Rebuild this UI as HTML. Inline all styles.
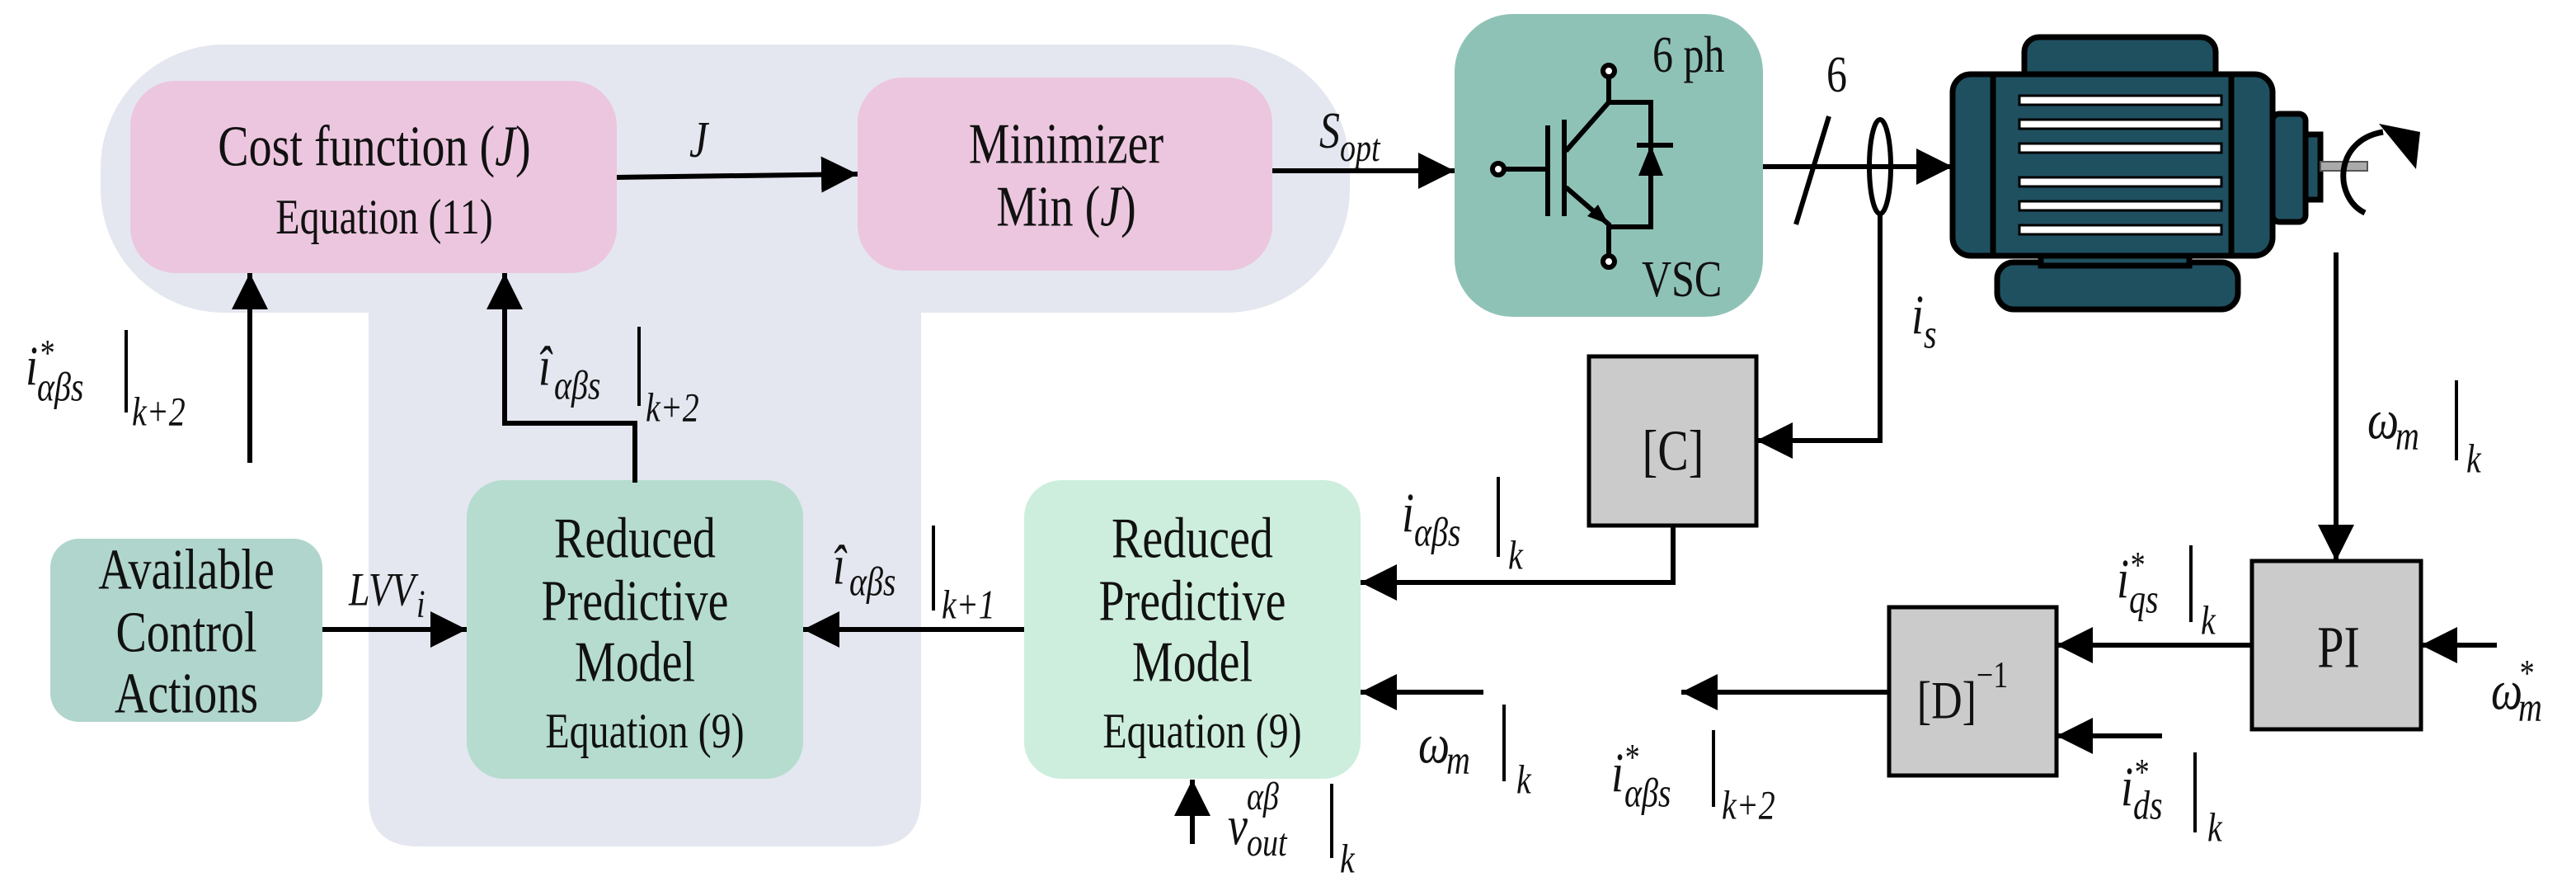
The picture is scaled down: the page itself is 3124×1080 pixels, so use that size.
<!DOCTYPE html>
<html><head><meta charset="utf-8"><style>
html,body{margin:0;padding:0;background:#fff;}
svg{display:block;}
text{font-family:"Liberation Serif",serif;fill:#111;transform-box:fill-box;transform-origin:center;transform:scaleY(1.25);}
.m{font-style:italic;}
</style></head><body>
<svg width="3124" height="1080" viewBox="0 0 3124 1080" xmlns="http://www.w3.org/2000/svg">
<defs>
<marker id="a" markerUnits="userSpaceOnUse" markerWidth="46" markerHeight="46" refX="44" refY="22" orient="auto">
<path d="M0,0 L44,22 L0,44 Z" fill="#000"/>
</marker>
</defs>
<rect x="122" y="54" width="1515" height="325" rx="150" fill="#e4e7ef"/>
<path d="M447,370 H1117 V966 Q1117,1026 1057,1026 H507 Q447,1026 447,966 Z" fill="#e4e7ef"/>

<rect x="158" y="98" width="590" height="233" rx="55" fill="#ecc6df"/>
<text x="454" y="196" font-size="56" text-anchor="middle">Cost function (<tspan class="m">J</tspan>)</text>
<text x="466" y="279" font-size="48" text-anchor="middle">Equation (11)</text>

<rect x="1040" y="94" width="503" height="234" rx="55" fill="#ecc6df"/>
<text x="1293" y="193" font-size="56" text-anchor="middle">Minimizer</text>
<text x="1293" y="269" font-size="56" text-anchor="middle">Min (<tspan class="m">J</tspan>)</text>

<rect x="61" y="653" width="330" height="222" rx="35" fill="#b0d5cc"/>
<text x="226" y="709" font-size="56" text-anchor="middle">Available</text>
<text x="226" y="785" font-size="56" text-anchor="middle">Control</text>
<text x="226" y="859" font-size="56" text-anchor="middle">Actions</text>

<rect x="566" y="582" width="408" height="362" rx="45" fill="#b5dccf"/>
<text x="770" y="671" font-size="56" text-anchor="middle">Reduced</text>
<text x="770" y="747" font-size="56" text-anchor="middle">Predictive</text>
<text x="770" y="821" font-size="56" text-anchor="middle">Model</text>
<text x="782" y="902" font-size="48" text-anchor="middle">Equation (9)</text>

<rect x="1242" y="582" width="408" height="362" rx="45" fill="#cdeedd"/>
<text x="1446" y="671" font-size="56" text-anchor="middle">Reduced</text>
<text x="1446" y="747" font-size="56" text-anchor="middle">Predictive</text>
<text x="1446" y="821" font-size="56" text-anchor="middle">Model</text>
<text x="1458" y="902" font-size="48" text-anchor="middle">Equation (9)</text>

<rect x="1764" y="17" width="374" height="367" rx="70" fill="#8fc2b6"/>
<text x="2004" y="83" font-size="50">6 ph</text>
<text x="1991" y="355" font-size="50">VSC</text>
<g stroke="#000" stroke-width="6" fill="none">
<circle cx="1817" cy="205" r="7" fill="#fff"/>
<line x1="1824" y1="205" x2="1874" y2="205"/>
<line x1="1877" y1="152" x2="1877" y2="262"/>
<line x1="1897" y1="145" x2="1897" y2="262"/>
<path d="M1899,183 L1951,124 V93"/>
<circle cx="1951" cy="86" r="7" fill="#fff"/>
<path d="M1899,227 L1951,272 V310"/>
<circle cx="1951" cy="317" r="7" fill="#fff"/>
<path d="M1951,124 H2002 V275 H1951"/>
<line x1="1985" y1="176" x2="2029" y2="176"/>
</g>
<polygon points="2002,176 1987,213 2017,213" fill="#000"/>
<polygon points="1951,272 1925,262 1938,248" fill="#000"/>

<g stroke="#000" stroke-width="7" fill="#1f5060">
<rect x="2455" y="45" width="232" height="60" rx="18"/>
<rect x="2422" y="318" width="292" height="57" rx="20"/>
<rect x="2475" y="300" width="180" height="22"/>
<rect x="2756" y="138" width="40" height="131" rx="8"/>
<rect x="2796" y="163" width="18" height="79"/>
<rect x="2368" y="90" width="388" height="220" rx="22"/>
<line x1="2417" y1="92" x2="2417" y2="308"/>
<line x1="2706" y1="92" x2="2706" y2="308"/>
</g>
<rect x="2814" y="196" width="57" height="11" fill="#aaa" stroke="#555" stroke-width="2"/>
<g fill="#fff" stroke="#000" stroke-width="3">
<rect x="2449" y="116" width="245" height="11"/>
<rect x="2449" y="145" width="245" height="11"/>
<rect x="2449" y="174" width="245" height="11"/>
<rect x="2449" y="215" width="245" height="11"/>
<rect x="2449" y="244" width="245" height="11"/>
<rect x="2449" y="273" width="245" height="11"/>
</g>
<path d="M2868,258 C2830,240 2830,170 2890,160" stroke="#000" stroke-width="7" fill="none"/>
<polygon points="2885,150 2935,160 2930,205" fill="#000"/>

<g stroke="#000" stroke-width="6" fill="none">
<line x1="748" y1="215" x2="1040" y2="211" marker-end="url(#a)"/>
<line x1="1543" y1="207" x2="1764" y2="207" marker-end="url(#a)"/>
<line x1="2138" y1="202" x2="2368" y2="202" marker-end="url(#a)"/>
<line x1="303" y1="561" x2="303" y2="331" marker-end="url(#a)"/>
<path d="M770,585 V513 H612 V331" marker-end="url(#a)"/>
<line x1="391" y1="763" x2="566" y2="763" marker-end="url(#a)"/>
<line x1="1242" y1="763" x2="974" y2="763" marker-end="url(#a)"/>
<line x1="1446" y1="1023" x2="1446" y2="945" marker-end="url(#a)"/>
<path d="M2280,259 V534 H2130" marker-end="url(#a)"/>
<path d="M2029,637 V706 H1650" marker-end="url(#a)"/>
<line x1="1799" y1="839" x2="1650" y2="839" marker-end="url(#a)"/>
<line x1="2833" y1="306" x2="2833" y2="680" marker-end="url(#a)"/>
<line x1="3028" y1="782" x2="2936" y2="782" marker-end="url(#a)"/>
<line x1="2731" y1="782" x2="2494" y2="782" marker-end="url(#a)"/>
<line x1="2622" y1="892" x2="2494" y2="892" marker-end="url(#a)"/>
<line x1="2291" y1="839" x2="2039" y2="839" marker-end="url(#a)"/>
<line x1="2218" y1="141" x2="2178" y2="272"/>
<ellipse cx="2280" cy="202" rx="13" ry="57"/>
</g>

<rect x="1927" y="432" width="203" height="205" fill="#cbcbcb" stroke="#000" stroke-width="5"/>
<text x="2029" y="565" font-size="56" text-anchor="middle">[C]</text>
<rect x="2731" y="680" width="205" height="204" fill="#cbcbcb" stroke="#000" stroke-width="5"/>
<text x="2836" y="804" font-size="58" text-anchor="middle">PI</text>
<rect x="2291" y="736" width="203" height="204" fill="#cbcbcb" stroke="#000" stroke-width="5"/>
<text x="2380" y="864" font-size="52" text-anchor="middle">[D]<tspan dy="-30" font-size="36">−1</tspan></text>

<text x="2215" y="107" font-size="50">6</text>
<text x="836" y="186" font-size="50" class="m">J</text>
<text x="1600" y="175" font-size="50" class="m">S</text><text x="1625" y="192" font-size="38" class="m">opt</text>
<text x="423" y="730" font-size="46" class="m">LVV</text><text x="505" y="745" font-size="38" class="m">i</text>

<g stroke="#000" stroke-width="4">
<line x1="153" y1="400" x2="153" y2="500"/>
<line x1="775" y1="396" x2="775" y2="492"/>
<line x1="1132" y1="637" x2="1132" y2="740"/>
<line x1="1615" y1="950" x2="1615" y2="1040"/>
<line x1="1817" y1="578" x2="1817" y2="675"/>
<line x1="1824" y1="854" x2="1824" y2="947"/>
<line x1="2979" y1="461" x2="2979" y2="558"/>
<line x1="2657" y1="661" x2="2657" y2="754"/>
<line x1="2662" y1="912" x2="2662" y2="1009"/>
<line x1="2078" y1="885" x2="2078" y2="978"/>
</g>
<g class="m">
<text x="31" y="462" font-size="54">i</text><text x="47" y="440" font-size="36">*</text><text x="45" y="482" font-size="40">αβs</text><text x="160" y="512" font-size="40">k+2</text>
<text x="653" y="462" font-size="54">î</text><text x="672" y="480" font-size="40">αβs</text><text x="783" y="507" font-size="40">k+2</text>
<text x="1010" y="703" font-size="54">î</text><text x="1030" y="718" font-size="40">αβs</text><text x="1142" y="746" font-size="40">k+1</text>
<text x="1489" y="1019" font-size="54">v</text><text x="1512" y="978" font-size="38">αβ</text><text x="1512" y="1034" font-size="38">out</text><text x="1625" y="1054" font-size="40">k</text>
<text x="2318" y="400" font-size="54">i</text><text x="2333" y="418" font-size="40">s</text>
<text x="1700" y="640" font-size="54">i</text><text x="1715" y="658" font-size="40">αβs</text><text x="1829" y="686" font-size="40">k</text>
<text x="1720" y="920" font-size="54">ω</text><text x="1754" y="934" font-size="40">m</text><text x="1839" y="958" font-size="40">k</text>
<text x="2871" y="527" font-size="54">ω</text><text x="2905" y="541" font-size="40">m</text><text x="2991" y="569" font-size="40">k</text>
<text x="3021" y="855" font-size="54">ω</text><text x="3054" y="828" font-size="36">*</text><text x="3054" y="870" font-size="40">m</text>
<text x="2567" y="720" font-size="54">i</text><text x="2582" y="697" font-size="36">*</text><text x="2582" y="739" font-size="40">qs</text><text x="2669" y="765" font-size="40">k</text>
<text x="2572" y="972" font-size="54">i</text><text x="2587" y="948" font-size="36">*</text><text x="2587" y="989" font-size="40">ds</text><text x="2677" y="1016" font-size="40">k</text>
<text x="1954" y="955" font-size="54">i</text><text x="1969" y="930" font-size="36">*</text><text x="1970" y="974" font-size="40">αβs</text><text x="2088" y="989" font-size="40">k+2</text>
</g>
</svg>
</body></html>
